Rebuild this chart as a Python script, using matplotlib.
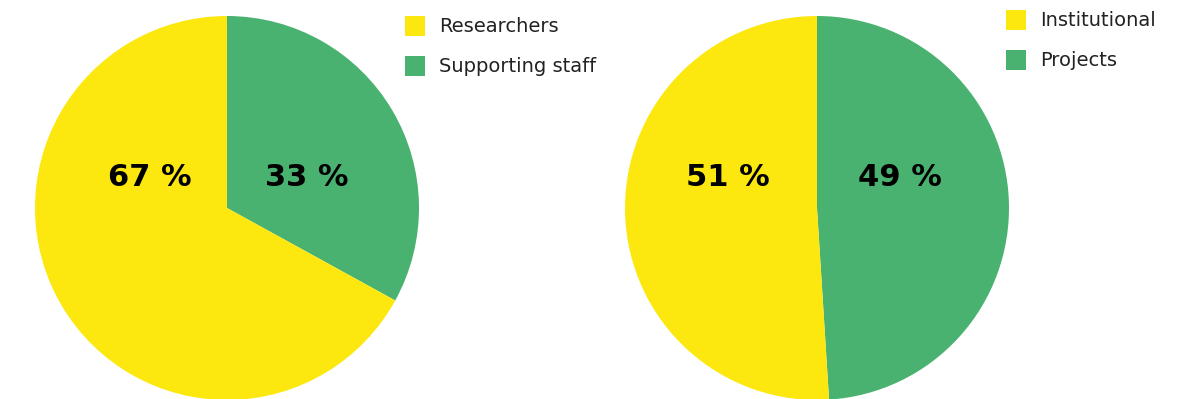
import matplotlib.pyplot as plt
from matplotlib.patches import Rectangle

# staff composition and funding sources, in percent
staff_labels = ['Researchers', 'Supporting staff']
staff_values = [67, 33]
funding_labels = ['Institutional', 'Projects']
funding_values = [51, 49]

yellow = '#FCE80F'
green = '#4AB270'
colors = [yellow, green]

plt.rcParams['font.family'] = ['DejaVu Sans']

W, H = 1186, 399
fig = plt.figure(figsize=(W / 100, H / 100), dpi=100)
ax = fig.add_axes([0, 0, 1, 1])


def draw_pie(values, labels, cx, cy, r, label_dx, legend_x, legend_y):
    # green slice goes first, clockwise from 12 o'clock
    ax.pie(values[::-1], colors=colors[::-1], startangle=90, counterclock=False,
           center=(cx, cy), radius=r, frame=True,
           wedgeprops=dict(linewidth=0))
    for val, dx in zip(values, label_dx):
        ax.text(cx + dx, cy + 31, f'{val} %', ha='center', va='center',
                fontsize=22, fontweight='bold', color='black')
    for i, (lab, col) in enumerate(zip(labels, colors)):
        y = legend_y - i * 40
        ax.add_patch(Rectangle((legend_x - 10, y - 10), 20, 20, color=col, lw=0))
        ax.text(legend_x + 24, y, lab, ha='left', va='center',
                fontsize=14, color='#222222')


draw_pie(staff_values, staff_labels, 227, 191, 192, [-77, 80], 415, 373)
draw_pie(funding_values, funding_labels, 817, 191, 192, [-89, 83], 1016, 379)

ax.set_xlim(0, W)
ax.set_ylim(0, H)
ax.set_aspect('auto')
ax.axis('off')

fig.savefig('out.png', dpi=100)
